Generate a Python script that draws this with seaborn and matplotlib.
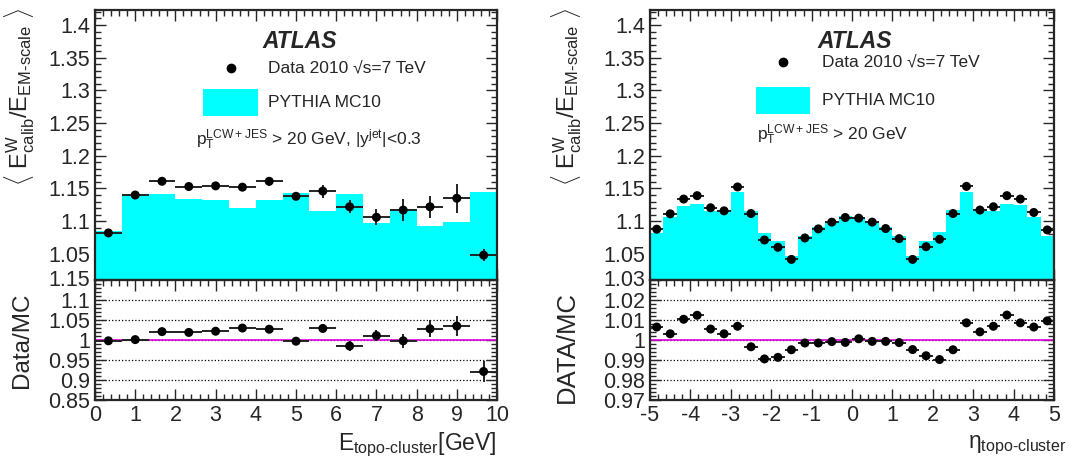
import numpy as np
import seaborn as sns
import matplotlib.pyplot as plt
import matplotlib.transforms as mtransforms
from matplotlib.patches import Rectangle
from matplotlib.ticker import MultipleLocator, FixedLocator, FuncFormatter

# --- left panel: energy of topo-cluster ---
e_edges = np.linspace(0, 10, 16)
e_mc = [1.085, 1.141, 1.141, 1.134, 1.132, 1.120, 1.132, 1.143, 1.115, 1.142,
        1.097, 1.119, 1.093, 1.099, 1.144]
e_data = [1.082, 1.140, 1.161, 1.153, 1.154, 1.152, 1.161, 1.138, 1.146, 1.122,
          1.106, 1.117, 1.122, 1.135, 1.048]
e_data_err = [0.002, 0.002, 0.002, 0.002, 0.002, 0.002, 0.007, 0.006, 0.010, 0.010,
              0.012, 0.017, 0.017, 0.022, 0.009]
e_ratio = [0.998, 1.001, 1.021, 1.019, 1.022, 1.030, 1.027, 0.997, 1.029, 0.985,
           1.011, 0.998, 1.028, 1.035, 0.921]
e_ratio_err = [0.002, 0.002, 0.002, 0.002, 0.002, 0.003, 0.004, 0.007, 0.010, 0.012,
               0.014, 0.018, 0.021, 0.025, 0.027]
e_ratio_ticks = [0.85, 0.9, 0.95, 1.0, 1.05, 1.1, 1.15]

# --- right panel: eta of topo-cluster ---
eta_edges = np.linspace(-5, 5, 31)
eta_mc = [1.0815, 1.107, 1.1235, 1.1256, 1.1148, 1.1148, 1.1446, 1.1158, 1.0825, 1.0697,
          1.0466, 1.0774, 1.0917, 1.101, 1.1086, 1.107, 1.1005, 1.0917, 1.0774, 1.0466,
          1.070, 1.0835, 1.1174, 1.144, 1.1148, 1.1148, 1.126, 1.125, 1.107, 1.078]
eta_data = [1.0877, 1.1112, 1.1338, 1.139, 1.1205, 1.1158, 1.1523, 1.1117, 1.0712, 1.060,
            1.0415, 1.0743, 1.0882, 1.0985, 1.1056, 1.1046, 1.0985, 1.0887, 1.0733, 1.0415,
            1.061, 1.0723, 1.1117, 1.1532, 1.117, 1.122, 1.139, 1.1338, 1.1133, 1.0866]
eta_ratio = [1.0065, 1.0031, 1.0104, 1.0124, 1.0055, 1.0031, 1.0069, 0.9966, 0.9905, 0.9913,
             0.9951, 0.9985, 0.9985, 0.9992, 0.9988, 1.0006, 0.9993, 0.9993, 0.9987, 0.9952,
             0.9921, 0.9902, 0.9951, 1.0086, 1.0041, 1.0069, 1.0125, 1.0086, 1.0065, 1.0096]
eta_ratio_ticks = [0.97, 0.98, 0.99, 1.0, 1.01, 1.02, 1.03]

sns.set_style("ticks")
plt.rcParams["font.family"] = ["Liberation Sans", "DejaVu Sans"]
plt.rcParams["mathtext.fontset"] = "custom"
plt.rcParams["mathtext.rm"] = "Liberation Sans"
plt.rcParams["mathtext.it"] = "Liberation Sans:italic"
plt.rcParams["mathtext.bf"] = "Liberation Sans:bold"
plt.rcParams["axes.unicode_minus"] = False

CYAN = "#00FFFF"
fig = plt.figure(figsize=(10.69, 4.61), dpi=100)
W, H = 1069, 461


def box(x0, y0, x1, y1):
    return [x0 / W, 1 - y1 / H, (x1 - x0) / W, (y1 - y0) / H]


fmt = FuncFormatter(lambda v, p: "{:g}".format(round(v, 4)))


def style(ax, ymaj, ymin, labels_x):
    ax.xaxis.set_major_locator(MultipleLocator(1))
    ax.xaxis.set_minor_locator(MultipleLocator(0.2))
    if isinstance(ymaj, list):
        ax.yaxis.set_major_locator(FixedLocator(ymaj))
    else:
        ax.yaxis.set_major_locator(MultipleLocator(ymaj))
    ax.yaxis.set_minor_locator(MultipleLocator(ymin))
    ax.yaxis.set_major_formatter(fmt)
    ax.xaxis.set_major_formatter(fmt)
    ax.tick_params(which="both", direction="in", top=True, right=True,
                   labelsize=15.5, width=1.0)
    ax.tick_params(which="major", length=8)
    ax.tick_params(which="minor", length=4)
    if not labels_x:
        ax.tick_params(labelbottom=False)
    for s in ax.spines.values():
        s.set_linewidth(1.6)
    ax.set_xlabel("")
    ax.set_ylabel("")


def panel(x0, x1, edges, mc, data, data_err, ratio, ratio_err, rticks, rmin):
    centers = 0.5 * (edges[1:] + edges[:-1])
    half = 0.5 * (edges[1] - edges[0])
    top = fig.add_axes(box(x0, 10, x1, 280))
    sns.histplot(x=list(centers), weights=list(mc), bins=list(edges), element="step",
                 fill=True, color=CYAN, alpha=1, linewidth=0, ax=top)
    top.errorbar(centers, data, xerr=half, yerr=data_err, fmt="none",
                 ecolor="#222222", elinewidth=1.4, capsize=0, zorder=3)
    sns.scatterplot(x=centers, y=data, color="black", s=42, edgecolor="none",
                    ax=top, zorder=4)
    top.set_xlim(edges[0], edges[-1])
    top.set_ylim(1.01, 1.423)
    style(top, 0.05, 0.01, False)

    bot = fig.add_axes(box(x0, 280, x1, 400))
    bot.grid(axis="y", which="major", linestyle=":", color="black", linewidth=0.9)
    bot.axhline(1.0, color="#e000e0", linewidth=1.2, zorder=2)
    bot.errorbar(centers, ratio, xerr=half, yerr=ratio_err, fmt="none",
                 ecolor="#222222", elinewidth=1.4, capsize=0, zorder=3)
    sns.scatterplot(x=centers, y=ratio, color="black", s=42, edgecolor="none",
                    ax=bot, zorder=4)
    bot.set_xlim(edges[0], edges[-1])
    pad = 0.0015 * (rticks[-1] - rticks[0])
    bot.set_ylim(rticks[0] - pad, rticks[-1] + pad)
    style(bot, rticks, rmin, True)
    # top label of the ratio pad drawn explicitly so it sits on the pad border
    bot.yaxis.set_major_formatter(FuncFormatter(
        lambda v, p: "" if abs(v - rticks[-1]) < 1e-9 else "{:g}".format(round(v, 4))))
    trans = mtransforms.blended_transform_factory(bot.transAxes, bot.transData)
    bot.text(-4.9 / (x1 - x0), rticks[-1], "{:g}".format(rticks[-1]), transform=trans,
             ha="right", va="center", fontsize=15.5, clip_on=False, zorder=10)
    return top, bot


ltop, lbot = panel(95, 497, e_edges, e_mc, e_data, e_data_err, e_ratio, e_ratio_err,
                   e_ratio_ticks, 0.01)
rtop, rbot = panel(650, 1054, eta_edges, eta_mc, eta_data, [0.001] * 30, eta_ratio,
                   [0.0004] * 30, eta_ratio_ticks, 0.002)

ylab = r"$\langle\ \mathrm{E}^{\mathrm{W}}_{\mathrm{calib}}/\mathrm{E}_{\text{EM-scale}}\ \rangle$"
fig.text(20 / W, 1 - 8 / H, ylab, rotation=90, ha="center", va="top", fontsize=17)
fig.text(22 / W, 1 - 340 / H, "Data/MC", rotation=90, ha="center", va="center", fontsize=17.5)
fig.text(567 / W, 1 - 8 / H, ylab, rotation=90, ha="center", va="top", fontsize=17)
fig.text(567 / W, 1 - 347 / H, "DATA/MC", rotation=90, ha="center", va="center", fontsize=18.5)
fig.text(497 / W, 1 - 445 / H, r"$\mathrm{E}_{\text{topo-cluster}}$[GeV]",
         ha="right", va="center", fontsize=16.5)
fig.text(1066 / W, 1 - 445 / H, r"$\mathrm{\eta}_{\text{topo-cluster}}$",
         ha="right", va="center", fontsize=16.5)


def legend(ax, ax_x, mk, txt_x, rect, pt_x, pt_y, cut):
    ax.text(ax_x, 0.885, "ATLAS", transform=ax.transAxes, ha="center", va="center",
            fontsize=16.5, fontweight="bold", fontstyle="italic")
    ax.plot([mk[0]], [mk[1]], "o", color="black", ms=6, transform=ax.transAxes)
    ax.text(txt_x, mk[1], "Data 2010 \u221as=7 TeV", transform=ax.transAxes,
            ha="left", va="center", fontsize=12.5)
    ax.add_patch(Rectangle((rect[0], rect[1]), rect[2], rect[3], color=CYAN,
                           transform=ax.transAxes, linewidth=0))
    ax.text(txt_x, rect[1] + rect[3] / 2, "PYTHIA MC10", transform=ax.transAxes,
            ha="left", va="center", fontsize=12.5)
    ax.text(pt_x, pt_y, r"$\mathrm{p}_{\mathrm{T}}^{\mathrm{LCW+JES}}$ > 20 GeV" + cut,
            transform=ax.transAxes, ha="left", va="center", fontsize=12.5)


legend(ltop, 0.51, (0.338, 0.785), 0.43, (0.269, 0.607, 0.136, 0.10), 0.251, 0.52,
       r", $|\mathrm{y}^{\mathrm{jet}}|$<0.3")
legend(rtop, 0.507, (0.329, 0.807), 0.426, (0.262, 0.615, 0.134, 0.10), 0.265, 0.537, "")

fig.savefig("out.png", dpi=100)
